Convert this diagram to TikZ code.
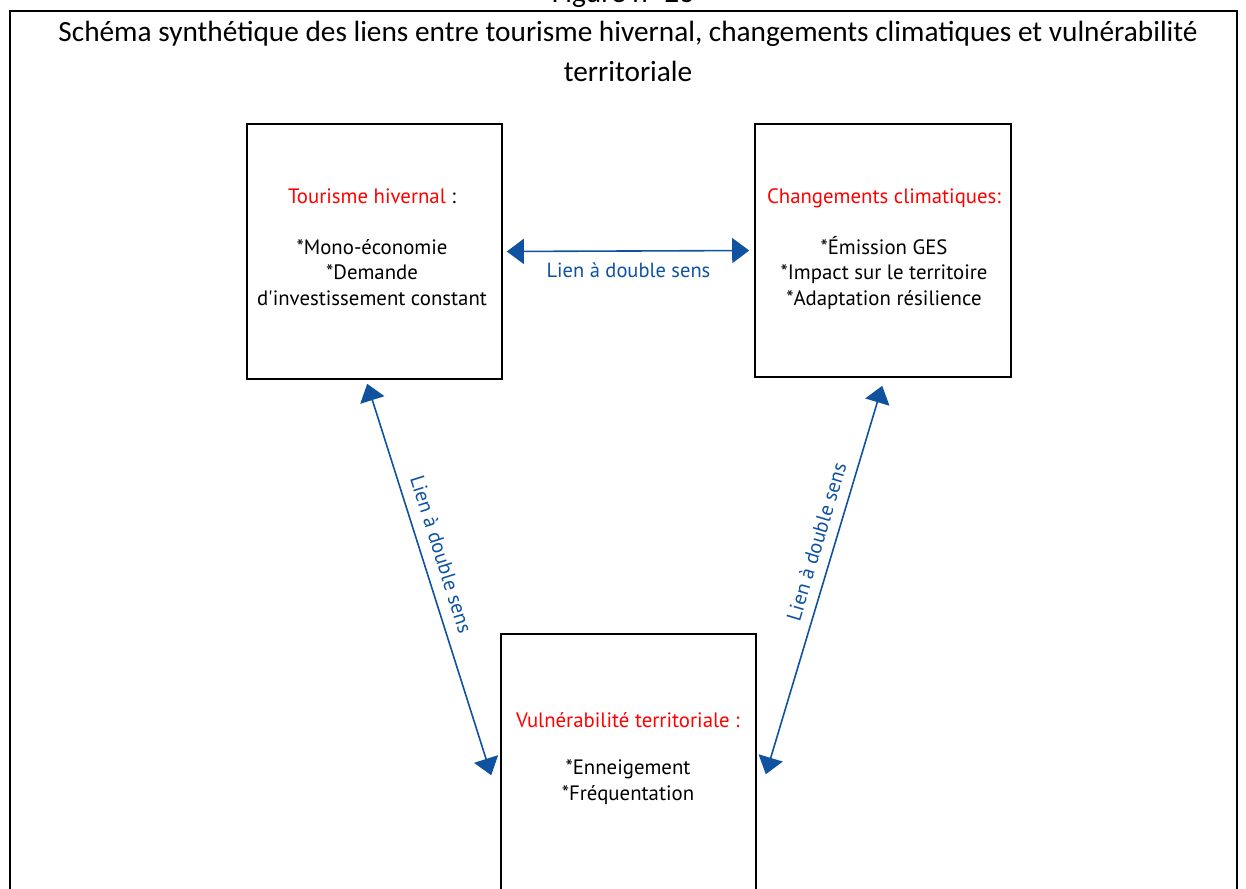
\documentclass[tikz,border=0pt]{standalone}
\usepackage{fontspec}
\setmainfont{Carlito}
\newfontfamily\boxfont{PT Sans}
\usetikzlibrary{arrows.meta,calc}
\definecolor{linkblue}{RGB}{14,82,160}
\definecolor{headred}{RGB}{255,0,0}
\tikzset{
  box/.style={draw=black, line width=1.6pt, minimum width=255pt, minimum height=255pt, inner sep=0pt},
  boxtext/.style={anchor=base, align=center, inner sep=0pt, font=\boxfont\fontsize{20.8}{25.3}\selectfont},
  link/.style={draw=linkblue, line width=1.6pt, {Triangle[length=17pt,width=25pt]}-{Triangle[length=17pt,width=25pt]}},
  linklabel/.style={text=linkblue, font=\boxfont\fontsize{20.5}{24}\selectfont, inner sep=2pt},
  titletext/.style={anchor=base, inner sep=0pt, font=\fontsize{29.3}{38}\selectfont}
}
\begin{document}
\begin{tikzpicture}[x=1pt,y=-1pt]
\useasboundingbox (0,0) rectangle (1246,888);
\clip (0,0) rectangle (1246,888);
% outer frame
\draw[line width=1.6pt] (10,11) rectangle (1237,950);
\node[titletext] (fig) at (623,3) {Figure n° 23};
\node[titletext] (title1) at (628,42) {Schéma synthétique des liens entre tourisme hivernal, changements climatiques et vulnérabilité};
\node[titletext] (title2) at (628,82) {territoriale};
% boxes
\node[box] (tour) at (374.5,251.5) {};
\node[box, minimum width=256pt, minimum height=253pt] (clim) at (883,250.5) {};
\node[box, minimum height=320pt] (vuln) at (628.5,794) {};
% box texts (anchor = baseline of last line)
\node[boxtext] (tourtxt) at (372,305) {\textcolor{headred}{Tourisme hivernal} :\\[25.3pt]*Mono-économie\\*Demande\\d'investissement constant};
\node[boxtext] (climtxt) at (884,305) {\textcolor{headred}{Changements climatiques:}\\[25.3pt]*Émission GES\\*Impact sur le territoire\\*Adaptation résilience};
\node[boxtext] (vulntxt) at (628,800) {\textcolor{headred}{Vulnérabilité territoriale :}\\[22pt]*Enneigement\\*Fréquentation};
% connector end points
\coordinate (tourS) at ($(tour.south west)+(121,4)$);
\coordinate (vulnW) at ($(vuln.north west)+(-9,142)$);
\coordinate (climS) at ($(clim.south west)+(128,8)$);
\coordinate (vulnE) at ($(vuln.north east)+(9,141)$);
% connectors
\draw[link, shorten <=4pt, shorten >=5pt] (tour.east) -- (clim.west)
  node[linklabel, midway, below=9pt] (lab1) {Lien à double sens};
\draw[link] (tourS) -- (vulnW)
  node[linklabel, pos=0.45, sloped, above=9pt] (lab2) {Lien à double sens};
\draw[link] (climS) -- (vulnE)
  node[linklabel, pos=0.415, sloped, above=8pt] (lab3) {Lien à double sens};
\end{tikzpicture}
\end{document}
